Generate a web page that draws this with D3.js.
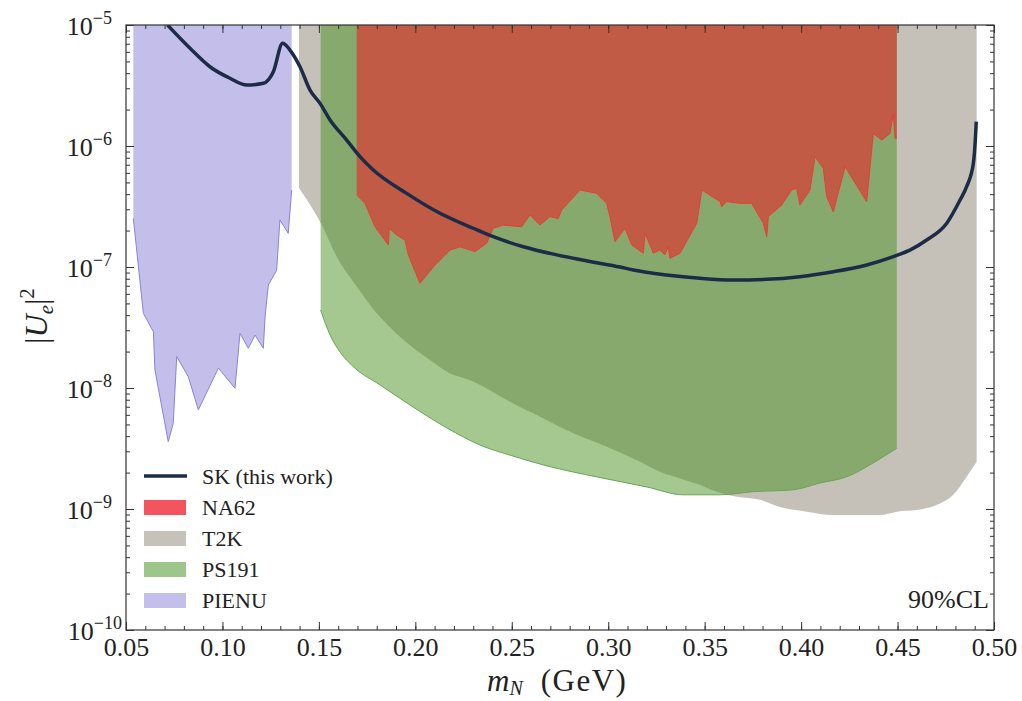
<!DOCTYPE html>
<html>
<head>
<meta charset="utf-8">
<script src="https://cdn.jsdelivr.net/npm/d3@7"></script>
<style>
  body { margin: 0; background: #fff; }
  svg text { font-family: "Liberation Serif", "DejaVu Serif", serif; fill: #222; }
</style>
</head>
<body>
<svg id="chart" width="1022" height="701"></svg>
<script>
// Data: [m_N (GeV), |U_e|^2]
const skLine = [
  [0.0715,1.0e-5],[0.0832,6.42e-6],[0.0935,4.52e-6],[0.1039,3.63e-6],[0.1126,3.19e-6],
  [0.1212,3.30e-6],[0.1264,4.11e-6],[0.1312,7.06e-6],[0.1350,6.21e-6],[0.1402,4.52e-6],
  [0.1454,2.90e-6],[0.1506,2.25e-6],[0.1558,1.64e-6],[0.1644,1.12e-6],[0.1713,8.16e-7],
  [0.1782,6.34e-7],[0.1955,4.06e-7],[0.2128,2.78e-7],[0.2300,2.09e-7],[0.2404,1.78e-7],
  [0.2560,1.47e-7],[0.2733,1.26e-7],[0.2906,1.11e-7],[0.3061,1.0e-7],[0.3130,9.44e-8],
  [0.3303,8.59e-8],[0.3476,8.07e-8],[0.3648,7.81e-8],[0.3822,7.91e-8],[0.3994,8.32e-8],
  [0.4167,9.14e-8],[0.4340,1.04e-7],[0.4478,1.22e-7],[0.4564,1.38e-7],[0.4651,1.67e-7],
  [0.4755,2.30e-7],[0.4824,3.58e-7],[0.4858,4.61e-7],[0.4893,7.19e-7],[0.4905,1.27e-6],
  [0.4908,1.59e-6]
];

// lower edges of the excluded regions (they run up to the top of the plot)
const na62Edge = [
  [0.1696,3.94e-7],[0.1739,3.36e-7],[0.1791,2.15e-7],[0.1860,1.52e-7],[0.1865,2.09e-7],
  [0.1903,1.84e-7],[0.1946,1.67e-7],[0.1964,1.26e-7],[0.2024,7.33e-8],[0.2093,1.0e-7],
  [0.2180,1.38e-7],[0.2232,1.47e-7],[0.2309,1.34e-7],[0.2370,1.57e-7],[0.2404,2.09e-7],
  [0.2456,2.22e-7],[0.2551,2.15e-7],[0.2594,2.69e-7],[0.2646,2.22e-7],[0.2698,2.61e-7],
  [0.2741,2.52e-7],[0.2759,2.96e-7],[0.2854,4.33e-7],[0.2940,4.06e-7],[0.2992,3.36e-7],
  [0.3009,2.61e-7],[0.3035,1.62e-7],[0.3087,2.09e-7],[0.3122,1.52e-7],[0.3182,1.30e-7],
  [0.3191,1.90e-7],[0.3234,1.30e-7],[0.3268,1.38e-7],[0.3294,1.26e-7],[0.3311,1.47e-7],
  [0.3320,1.18e-7],[0.3372,1.30e-7],[0.3459,2.30e-7],[0.3485,4.33e-7],[0.3580,3.47e-7],
  [0.3588,3.15e-7],[0.3614,3.47e-7],[0.3683,3.36e-7],[0.3744,3.36e-7],[0.3804,2.30e-7],
  [0.3822,1.78e-7],[0.3830,2.61e-7],[0.3899,3.25e-7],[0.3951,4.33e-7],[0.3977,4.47e-7],
  [0.3994,3.25e-7],[0.4046,4.33e-7],[0.4072,8.16e-7],[0.4115,6.54e-7],[0.4133,3.81e-7],
  [0.4167,2.86e-7],[0.4228,6.75e-7],[0.4340,3.47e-7],[0.4374,1.27e-6],[0.4418,1.12e-6],
  [0.4461,1.27e-6],[0.4478,1.86e-6],[0.4487,1.16e-6],[0.4496,1.16e-6]
];

const t2kEdge = [
  [0.1397,4.5e-7],[0.1515,2.22e-7],[0.1592,1.22e-7],[0.1696,6.9e-8],[0.1800,4.14e-8],
  [0.1920,2.65e-8],[0.2076,1.70e-8],[0.2180,1.32e-8],[0.2283,1.16e-8],[0.2352,1.03e-8],
  [0.2474,7.96e-9],[0.2646,5.79e-9],[0.2819,4.22e-9],[0.2992,3.27e-9],[0.3165,2.46e-9],
  [0.3268,2.03e-9],[0.3372,1.79e-9],[0.3476,1.58e-9],[0.3562,1.39e-9],[0.3666,1.26e-9],
  [0.3787,1.19e-9],[0.3890,1.04e-9],[0.4029,9.5e-10],[0.4167,8.9e-10],[0.4409,8.9e-10],
  [0.4496,9.5e-10],[0.4599,9.8e-10],[0.4720,1.11e-9],[0.4789,1.31e-9],[0.4858,1.85e-9],
  [0.4910,2.46e-9]
];

const ps191Edge = [
  [0.1509,4.41e-8],[0.1558,2.74e-8],[0.1609,1.99e-8],[0.1687,1.46e-8],[0.1817,1.06e-8],
  [0.1988,6.97e-9],[0.2164,4.67e-9],[0.2335,3.38e-9],[0.2506,2.74e-9],[0.2683,2.27e-9],
  [0.2942,1.84e-9],[0.3201,1.52e-9],[0.3388,1.31e-9],[0.3579,1.31e-9],[0.3751,1.39e-9],
  [0.3958,1.44e-9],[0.4098,1.64e-9],[0.4238,1.85e-9],[0.4373,2.40e-9],[0.4496,3.18e-9]
];

const pienuEdge = [
  [0.0538,2.52e-7],[0.0590,4.14e-8],[0.0642,2.92e-8],[0.0650,1.41e-8],[0.0719,3.6e-9],
  [0.0745,5.1e-9],[0.0763,1.82e-8],[0.0823,1.24e-8],[0.0875,6.6e-9],[0.0979,1.46e-8],
  [0.1065,9.95e-9],[0.1091,2.83e-8],[0.1134,2.13e-8],[0.1169,2.74e-8],[0.1212,2.13e-8],
  [0.1221,3.88e-8],[0.1238,7.1e-8],[0.1281,9.4e-8],[0.1298,2.45e-7],[0.1341,1.9e-7],
  [0.1359,4.33e-7]
];

const xMajorTicks = [0.05,0.10,0.15,0.20,0.25,0.30,0.35,0.40,0.45,0.50];
const yMajorExps = [-5,-6,-7,-8,-9,-10];
const legendNames = ["SK (this work)","NA62","T2K","PS191","PIENU"];

// Set up
const svg = d3.select("#chart");
const mLeft = 126, mRight = 994, mTop = 25, mBottom = 630;

const x = d3.scaleLinear().domain([0.05, 0.5]).range([mLeft, mRight]);
const y = d3.scaleLog().domain([1e-10, 1e-5]).range([mBottom, mTop]);

svg.append("defs").append("clipPath").attr("id", "plotclip")
  .append("rect").attr("x", mLeft).attr("y", mTop)
  .attr("width", mRight - mLeft).attr("height", mBottom - mTop);

const plot = svg.append("g").attr("clip-path", "url(#plotclip)");

// Region shapes: from the top of the plot down to the edge
const region = d3.area().x(d => x(d[0])).y0(y(1e-5)).y1(d => y(d[1]));
const smoothRegion = d3.area().x(d => x(d[0])).y0(y(1e-5)).y1(d => y(d[1])).curve(d3.curveMonotoneX);
const edge = d3.line().x(d => x(d[0])).y(d => y(d[1]));
const smoothEdge = d3.line().x(d => x(d[0])).y(d => y(d[1])).curve(d3.curveMonotoneX);

// T2K
plot.append("path").attr("d", smoothRegion(t2kEdge)).attr("fill", "#c5c1b9");

// PS191 (semi-transparent green over T2K)
plot.append("path").attr("d", smoothRegion(ps191Edge))
  .attr("fill", "rgb(73,145,33)").attr("fill-opacity", 0.5);
plot.append("path").attr("d", smoothEdge(ps191Edge))
  .attr("fill", "none").attr("stroke", "#6aa552").attr("stroke-width", 1);

// NA62
plot.append("path").attr("d", region(na62Edge)).attr("fill", "#c25b45");
plot.append("path").attr("d", edge(na62Edge))
  .attr("fill", "none").attr("stroke", "#ee3b2e").attr("stroke-width", 1);

// PIENU
plot.append("path").attr("d", region(pienuEdge)).attr("fill", "#c4beeb");
plot.append("path").attr("d", edge(pienuEdge))
  .attr("fill", "none").attr("stroke", "#8b82d6").attr("stroke-width", 1);

// SK line
plot.append("path").attr("d", smoothEdge(skLine))
  .attr("fill", "none").attr("stroke", "#1c2c47").attr("stroke-width", 3.5)
  .attr("stroke-linejoin", "round");

// Axes (ticks pointing inwards)
const xMinor = d3.range(5, 51).map(v => v / 100);
const yMinor = [];
yMajorExps.slice(0, -1).forEach(e => {
  for (let k = 1; k <= 9; k++) yMinor.push(k * Math.pow(10, e - 1));
});

function addAxis(axis, tx, ty) {
  const g = svg.append("g").attr("transform", `translate(${tx},${ty})`).call(axis);
  g.select(".domain").remove();
  g.selectAll("line").attr("stroke", "#333");
  return g;
}

addAxis(d3.axisBottom(x).tickValues(xMinor).tickSizeInner(-4).tickFormat(""), 0, mBottom);
addAxis(d3.axisTop(x).tickValues(xMinor).tickSizeInner(-4).tickFormat(""), 0, mTop);
addAxis(d3.axisTop(x).tickValues(xMajorTicks).tickSizeInner(-8).tickFormat(""), 0, mTop);
const xAxis = addAxis(d3.axisBottom(x).tickValues(xMajorTicks).tickSizeInner(-8)
  .tickPadding(8).tickFormat(d3.format(".2f")), 0, mBottom);
xAxis.selectAll("text").attr("font-size", 26)
  .attr("font-family", "Liberation Serif, DejaVu Serif, serif").attr("fill", "#222");

const yMajor = yMajorExps.map(e => Math.pow(10, e));
addAxis(d3.axisLeft(y).tickValues(yMinor).tickSizeInner(-4).tickFormat(""), mLeft, 0);
addAxis(d3.axisRight(y).tickValues(yMinor).tickSizeInner(-4).tickFormat(""), mRight, 0);
addAxis(d3.axisLeft(y).tickValues(yMajor).tickSizeInner(-8).tickFormat(""), mLeft, 0);
addAxis(d3.axisRight(y).tickValues(yMajor).tickSizeInner(-8).tickFormat(""), mRight, 0);

// y tick labels as 10^n (the two-digit one sits a bit further right, as in the figure)
yMajorExps.forEach(e => {
  const t = svg.append("text").attr("x", e === -10 ? 122 : 112).attr("y", y(Math.pow(10, e)) + 10)
    .attr("text-anchor", "end").attr("font-size", 26);
  t.append("tspan").text("10");
  t.append("tspan").attr("dy", -11).attr("font-size", 18).text("\u2212" + Math.abs(e));
});

// frame
svg.append("rect").attr("x", mLeft).attr("y", mTop)
  .attr("width", mRight - mLeft).attr("height", mBottom - mTop)
  .attr("fill", "none").attr("stroke", "#333").attr("stroke-width", 1.2);

// axis titles
const xt = svg.append("text").attr("x", 487).attr("y", 691).attr("font-size", 31);
xt.append("tspan").attr("font-style", "italic").text("m");
xt.append("tspan").attr("font-style", "italic").attr("font-size", 20).attr("dy", 4).text("N");
xt.append("tspan").attr("dy", -4).attr("dx", 18).attr("letter-spacing", 1.5).text("(GeV)");

const yt = svg.append("text").attr("transform", "translate(47,316) rotate(-90)")
  .attr("text-anchor", "middle").attr("font-size", 32);
yt.append("tspan").text("|");
yt.append("tspan").attr("font-style", "italic").text("U");
yt.append("tspan").attr("font-style", "italic").attr("font-size", 21).attr("dy", 6).text("e");
yt.append("tspan").attr("dy", -6).text("|");
yt.append("tspan").attr("font-size", 21).attr("dy", -13).text("2");

// legend
const legendFills = [null, "#f2555e", "#c6c2ba", "#9dc68b", "#c4beeb"];
const lg = svg.append("g").attr("transform", "translate(144,476)");
legendNames.forEach((name, i) => {
  const row = lg.append("g").attr("transform", `translate(0,${i * 31})`);
  if (i === 0) {
    row.append("line").attr("x1", 0).attr("x2", 43).attr("y1", 0).attr("y2", 0)
      .attr("stroke", "#1c2c47").attr("stroke-width", 3.5);
  } else {
    row.append("rect").attr("x", 0).attr("y", -7).attr("width", 42).attr("height", 15)
      .attr("fill", legendFills[i]);
  }
  row.append("text").attr("x", 58).attr("y", 8).attr("font-size", 22).text(name);
});

// confidence level note
svg.append("text").attr("x", 989).attr("y", 608).attr("text-anchor", "end")
  .attr("font-size", 26).text("90%CL");
</script>
</body>
</html>
